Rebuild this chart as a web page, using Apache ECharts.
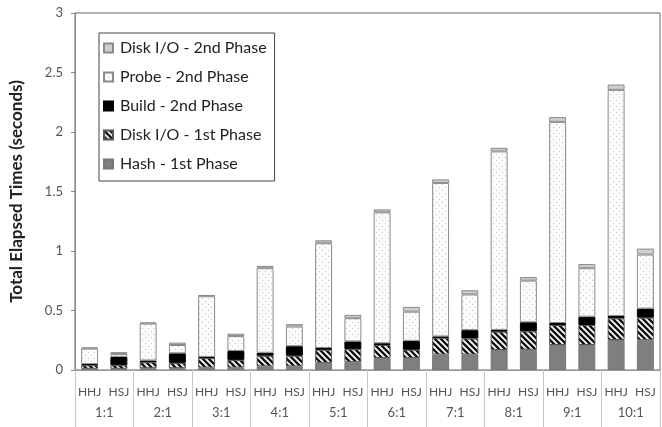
<!DOCTYPE html>
<html>
<head>
<meta charset="utf-8">
<script src="https://cdn.jsdelivr.net/npm/echarts@6/dist/echarts.min.js"></script>
<style>
  html, body { margin: 0; padding: 0; background: #fff; }
  #chart { width: 662px; height: 427px; }
</style>
</head>
<body>
<div id="chart"></div>
<script>
// ratio groups and join types on the x axis
const groups = ['1:1', '2:1', '3:1', '4:1', '5:1', '6:1', '7:1', '8:1', '9:1', '10:1']
const joins = ['HHJ', 'HSJ', 'HHJ', 'HSJ', 'HHJ', 'HSJ', 'HHJ', 'HSJ', 'HHJ', 'HSJ',
               'HHJ', 'HSJ', 'HHJ', 'HSJ', 'HHJ', 'HSJ', 'HHJ', 'HSJ', 'HHJ', 'HSJ']

// stacked segments (seconds), one value per bar: HHJ, HSJ for each ratio
const hash1st = [0.01, 0.01, 0.015, 0.015, 0.02, 0.02, 0.03, 0.03, 0.06, 0.065,
                 0.10, 0.10, 0.13, 0.13, 0.168, 0.17, 0.21, 0.21, 0.252, 0.25]
const diskIO1st = [0.03, 0.03, 0.05, 0.045, 0.08, 0.065, 0.09, 0.09, 0.11, 0.11,
                   0.11, 0.07, 0.14, 0.135, 0.154, 0.155, 0.168, 0.168, 0.182, 0.19]
const build2nd = [0.01, 0.07, 0.015, 0.08, 0.01, 0.075, 0.025, 0.08, 0.015, 0.065,
                  0.015, 0.075, 0.012, 0.07, 0.015, 0.076, 0.017, 0.07, 0.02, 0.076]
const probe2nd = [0.13, 0.025, 0.31, 0.07, 0.51, 0.125, 0.71, 0.165, 0.88, 0.195,
                  1.10, 0.245, 1.29, 0.30, 1.50, 0.35, 1.69, 0.407, 1.90, 0.454]
const diskIO2nd = [0.01, 0.015, 0.01, 0.02, 0.01, 0.02, 0.02, 0.02, 0.025, 0.028,
                   0.025, 0.04, 0.03, 0.035, 0.03, 0.03, 0.04, 0.035, 0.045, 0.05]

const yTicks = [0, 0.5, 1, 1.5, 2, 2.5, 3]

// small canvas tiles for the hatched / dotted fills
function hatchTile() {
  const c = document.createElement('canvas')
  c.width = 6; c.height = 6
  const g = c.getContext('2d')
  g.fillStyle = '#fff'; g.fillRect(0, 0, 6, 6)
  g.strokeStyle = '#111'; g.lineWidth = 2.4
  g.beginPath()
  g.moveTo(-1, -1); g.lineTo(7, 7)
  g.moveTo(-4, 2); g.lineTo(4, 10)
  g.moveTo(2, -4); g.lineTo(10, 4)
  g.stroke()
  return c
}
function dotTile() {
  const c = document.createElement('canvas')
  c.width = 6; c.height = 6
  const g = c.getContext('2d')
  g.fillStyle = '#fbfbfb'; g.fillRect(0, 0, 6, 6)
  g.fillStyle = '#c4c4c4'
  g.fillRect(1, 1, 1, 1)
  g.fillRect(4, 4, 1, 1)
  return c
}

const chart = echarts.init(document.getElementById('chart'))
const font = 'Lato, "Open Sans", sans-serif'

function seg(name, data, color, border) {
  return {
    name: name,
    type: 'bar',
    stack: 'total',
    barWidth: '58%',
    data: data,
    itemStyle: { color: color, borderColor: border || '#8a8a8a', borderWidth: 1 },
    emphasis: { disabled: true }
  }
}

chart.setOption({
  animation: false,
  textStyle: { fontFamily: font },
  grid: {
    left: 72, right: 2, top: 13, bottom: 57,
    show: true, borderColor: '#666', borderWidth: 1
  },
  legend: {
    orient: 'vertical',
    left: 99, top: 33,
    padding: [7, 8, 9, 4],
    itemGap: 13,
    itemWidth: 9, itemHeight: 9,
    icon: 'rect',
    backgroundColor: '#fff',
    borderColor: '#444', borderWidth: 1,
    textStyle: { fontSize: 16, color: '#222', fontFamily: font, padding: [0, 0, 0, 2] },
    data: ['Disk I/O - 2nd Phase', 'Probe - 2nd Phase', 'Build - 2nd Phase',
           'Disk I/O - 1st Phase', 'Hash - 1st Phase']
  },
  xAxis: [{
    type: 'category',
    data: joins,
    axisLine: { lineStyle: { color: '#999' } },
    axisTick: { interval: 0, length: 29, lineStyle: { color: '#c8c8c8' } },
    axisLabel: { interval: 0, margin: 16, fontSize: 12, color: '#555' }
  }, {
    type: 'category',
    data: groups,
    position: 'bottom',
    axisLine: { show: true, lineStyle: { color: 'rgba(0,0,0,0)' } },
    axisTick: { show: true, interval: 0, length: 57, lineStyle: { color: '#c8c8c8' } },
    axisLabel: { interval: 0, margin: 36, fontSize: 13, color: '#555' }
  }],
  yAxis: {
    type: 'value',
    min: yTicks[0], max: yTicks[yTicks.length - 1], interval: 0.5,
    name: 'Total Elapsed Times (seconds)',
    nameLocation: 'middle',
    nameGap: 50,
    nameTextStyle: { fontSize: 17, fontWeight: 'bold', color: '#222', fontFamily: font },
    axisLine: { show: true, lineStyle: { color: '#888' } },
    axisTick: { show: true, length: 4, lineStyle: { color: '#888' } },
    splitLine: { show: false },
    axisLabel: { margin: 12, fontSize: 13, color: '#555' }
  },
  series: [
    seg('Hash - 1st Phase', hash1st, '#7f7f7f', '#777'),
    seg('Disk I/O - 1st Phase', diskIO1st, { image: hatchTile(), repeat: 'repeat' }, '#555'),
    seg('Build - 2nd Phase', build2nd, '#000', '#000'),
    seg('Probe - 2nd Phase', probe2nd, { image: dotTile(), repeat: 'repeat' }, '#8a8a8a'),
    seg('Disk I/O - 2nd Phase', diskIO2nd, '#cfcfcf', '#8a8a8a')
  ]
})
</script>
</body>
</html>
